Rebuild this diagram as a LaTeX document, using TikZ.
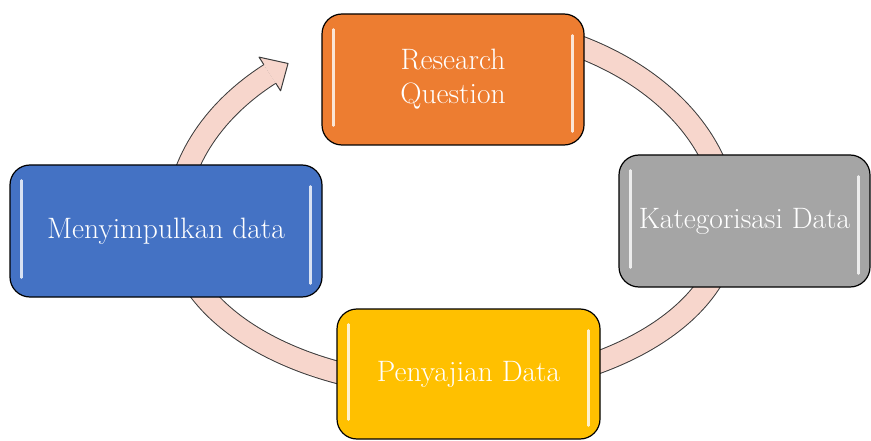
\documentclass[tikz,border=0pt]{standalone}
\usepackage{tikz}
\definecolor{rqorange}{HTML}{ED7D31}
\definecolor{katgray}{HTML}{A5A5A5}
\definecolor{pengold}{HTML}{FFC000}
\definecolor{menblue}{HTML}{4472C4}
\definecolor{ringpink}{HTML}{F7D6CC}
\definecolor{ringedge}{HTML}{3C3C3C}

\begin{document}
\begin{tikzpicture}[x=1pt,y=1pt,
    box/.style={draw=black, line width=1.2pt, rounded corners=20pt,
        text=white, align=center, inner sep=0pt,
        font=\fontsize{29.5}{34}\selectfont},
    shine/.style={white, line width=2.4pt, opacity=0.8, line cap=round}]

        \useasboundingbox (0,0) rectangle (871,440);

        % Ring behind the boxes
        \coordinate (rstart) at (523.4,409.2);
        \foreach \w/\c in {23/ringedge,21/ringpink}
            \draw[\c, line width=\w pt] (rstart)
                arc[start angle=75, end angle=0, x radius=276pt, y radius=201pt]
                arc[start angle=0, end angle=-180, x radius=276pt, y radius=162pt]
                arc[start angle=180, end angle=131.3, x radius=276pt, y radius=201pt]
                coordinate (rend);

        % Arrow head
        \begin{scope}[shift={(rend)}, rotate=32.6]
            \coordinate (he1) at (0,11);
            \coordinate (hb1) at (0,20);
            \coordinate (tip) at (21,-1);
            \coordinate (hb2) at (0,-20);
            \coordinate (he2) at (0,-11);
        \end{scope}
        \fill[ringpink] (he1) -- (hb1) -- (tip) -- (hb2) -- (he2) -- cycle;
        \draw[ringedge, line width=1pt, line join=round]
            (he1) -- (hb1) -- (tip) -- (hb2) -- (he2);

        % Boxes
        \node[box, fill=rqorange, minimum width=262pt, minimum height=131pt]
            (rq) at (453,360.5) {Research\\Question};
        \node[box, fill=katgray, minimum width=251pt, minimum height=132pt]
            (kat) at (744.5,219) {Kategorisasi Data};
        \node[box, fill=pengold, minimum width=263pt, minimum height=130pt]
            (pen) at (468.5,66) {Penyajian Data};
        \node[box, fill=menblue, minimum width=312pt, minimum height=132pt]
            (men) at (166,209) {Menyimpulkan data};

        % Glossy edges
        \foreach \n in {rq,kat,pen,men} {
            \draw[shine] ([xshift=12pt,yshift=-16pt]\n.north west)
                -- ([xshift=12pt,yshift=20pt]\n.south west);
            \draw[shine] ([xshift=-12pt,yshift=-22pt]\n.north east)
                -- ([xshift=-12pt,yshift=14pt]\n.south east);
        }

    \end{tikzpicture}
\end{document}
